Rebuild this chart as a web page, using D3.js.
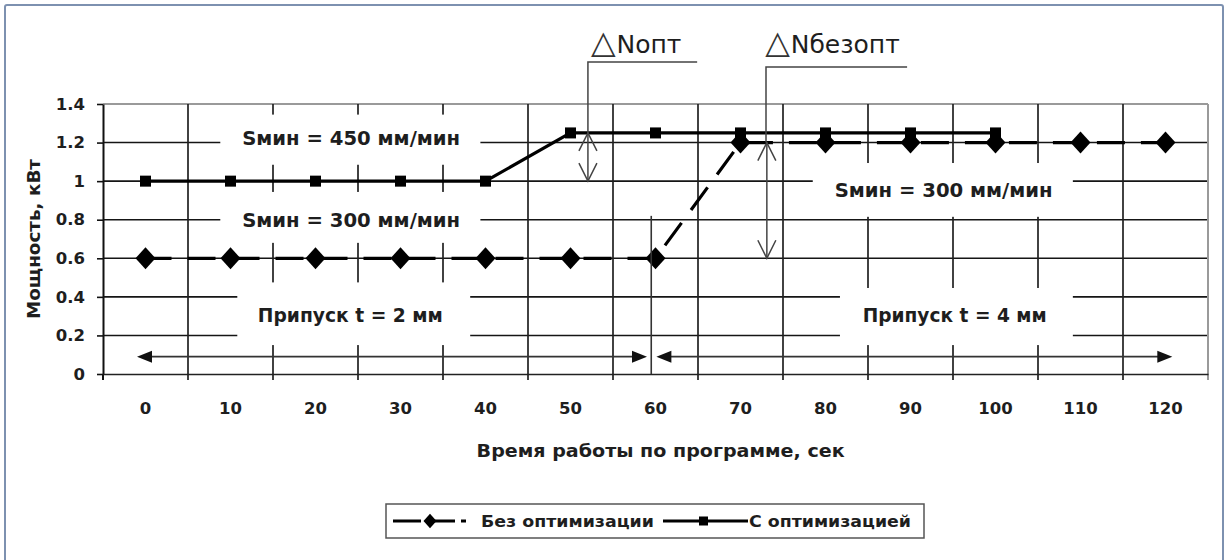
<!DOCTYPE html>
<html><head><meta charset="utf-8">
<script src="https://cdn.jsdelivr.net/npm/d3@7"></script>
<style>
body{margin:0;background:#fff}
svg text{font-family:"DejaVu Sans",sans-serif;fill:#1e1e1e}
</style>
</head><body><svg id="c" width="1230" height="560"></svg>
<script>
// ---- data ----
const categories = ["0","10","20","30","40","50","60","70","80","90","100","110","120"];
const seriesNoOpt = [0.6,0.6,0.6,0.6,0.6,0.6,0.6,1.2,1.2,1.2,1.2,1.2,1.2];
const seriesOpt   = [1,1,1,1,1,1.25,1.25,1.25,1.25,1.25,1.25,null,null];
const seriesNames = ["Без оптимизации","С оптимизацией"];
const yTicks = [0,0.2,0.4,0.6,0.8,1,1.2,1.4];
const yTickLabels = ["0","0.2","0.4","0.6","0.8","1","1.2","1.4"];
const xTitle = "Время работы по программе, сек";
const yTitle = "Мощность, кВт";

const svg = d3.select("#c");
const x = d3.scaleBand().domain(categories).range([103,1208]).padding(0);
const bw = x.bandwidth();
const y = d3.scaleLinear().domain([0,1.4]).range([374,104]);
const xt = d3.scaleLinear().domain([0,120]).range([x("0")+bw/2, x("120")+bw/2]);

// outer frame
svg.append("rect").attr("x",5).attr("y",5).attr("width",1218).attr("height",600)
  .attr("rx",2).attr("fill","none").attr("stroke","#7d91b0").attr("stroke-width",2);

// grid
const g = svg.append("g");
g.selectAll("line.h").data(yTicks.filter(v=>v>0 && v<1.4)).join("line")
  .attr("x1",x.range()[0]).attr("x2",x.range()[1]).attr("y1",d=>y(d)).attr("y2",d=>y(d))
  .attr("stroke","#151515").attr("stroke-width",1.6);
g.append("line").attr("x1",x.range()[0]).attr("x2",x.range()[1]).attr("y1",y(1.4)).attr("y2",y(1.4))
  .attr("stroke","#9a9a9a").attr("stroke-width",2);
g.selectAll("line.v").data(categories.slice(1)).join("line")
  .attr("x1",d=>x(d)).attr("x2",d=>x(d)).attr("y1",y(1.4)).attr("y2",y(0)+6)
  .attr("stroke","#202020").attr("stroke-width",1.7);
g.append("line").attr("x1",x.range()[1]).attr("x2",x.range()[1]).attr("y1",y(1.4)).attr("y2",y(0)+6)
  .attr("stroke","#9a9a9a").attr("stroke-width",2);

// white label boxes (mask grid)
const boxes = [
  {t0:8.8,t1:39.4,p0:1.085,p1:1.345, text:"Sмин = 450 мм/мин", tc:24.2, pb:1.19, w:218},
  {t0:8.8,t1:39.4,p0:0.68,p1:0.944, text:"Sмин = 300 мм/мин", tc:24.2, pb:0.762, w:218},
  {t0:10.8,t1:38.2,p0:0.15,p1:0.475, text:"Припуск t = 2 мм", tc:24.1, pb:0.27, w:185},
  {t0:78.5,t1:109.1,p0:0.815,p1:1.094, text:"Sмин = 300 мм/мин", tc:93.9, pb:0.918, w:218},
  {t0:81.7,t1:109.1,p0:0.15,p1:0.446, text:"Припуск t = 4 мм", tc:95.2, pb:0.27, w:184}
];
svg.selectAll("rect.box").data(boxes).join("rect")
  .attr("x",d=>xt(d.t0)).attr("y",d=>y(d.p1)).attr("width",d=>xt(d.t1)-xt(d.t0)).attr("height",d=>y(d.p0)-y(d.p1))
  .attr("fill","#fff");
svg.selectAll("text.box").data(boxes).join("text")
  .attr("x",d=>xt(d.tc)).attr("y",d=>y(d.pb)).attr("text-anchor","middle")
  .attr("font-size",19.5).attr("font-weight","bold")
  .attr("textLength",d=>d.w).attr("lengthAdjust","spacingAndGlyphs")
  .text(d=>d.text);

// axes
const ya = svg.append("g").attr("transform","translate(103,0)")
  .call(d3.axisLeft(y).tickValues(yTicks).tickSize(6).tickSizeOuter(0).tickPadding(12).tickFormat((d,i)=>yTickLabels[i]));
ya.select(".domain").attr("stroke","#111").attr("stroke-width",2);
ya.selectAll(".tick line").attr("stroke","#111").attr("stroke-width",1.6);
ya.selectAll("text").attr("font-size",16.5).attr("font-weight","bold").attr("fill","#1e1e1e")
  .style("font-family","DejaVu Sans");
svg.append("line").attr("x1",103).attr("x2",103).attr("y1",y(0)).attr("y2",y(0)+6).attr("stroke","#111").attr("stroke-width",2);

const xa = svg.append("g").attr("transform",`translate(0,${y(0)})`)
  .call(d3.axisBottom(x).tickSize(0).tickSizeOuter(0).tickPadding(28));
xa.select(".domain").attr("stroke","#222").attr("stroke-width",1.6);
xa.selectAll("text").attr("font-size",16.5).attr("font-weight","bold").attr("fill","#1e1e1e")
  .style("font-family","DejaVu Sans");

// axis titles
svg.append("text").attr("x",xt(60.6)).attr("y",457).attr("text-anchor","middle")
  .attr("font-size",17).attr("font-weight","bold").attr("textLength",368).attr("lengthAdjust","spacingAndGlyphs").text(xTitle);
svg.append("text").attr("transform",`translate(40,${(y(0)+y(1.4))/2}) rotate(-90)`).attr("text-anchor","middle")
  .attr("font-size",17).attr("font-weight","bold").attr("textLength",160).attr("lengthAdjust","spacingAndGlyphs").text(yTitle);

// series
const pts = arr => arr.map((v,i)=>({c:categories[i],v})).filter(d=>d.v!=null);
const line = d3.line().x(d=>x(d.c)+bw/2).y(d=>y(d.v));
svg.append("path").attr("d",line(pts(seriesNoOpt))).attr("fill","none").attr("stroke","#000")
  .attr("stroke-width",3.2).attr("stroke-dasharray","28,16").attr("stroke-dashoffset",2);
svg.append("path").attr("d",line(pts(seriesOpt))).attr("fill","none").attr("stroke","#000").attr("stroke-width",3.2);
const diamond = (s)=>`M0,${-s*1.1}L${s},0L0,${s*1.1}L${-s},0Z`;
svg.selectAll("path.dm").data(pts(seriesNoOpt)).join("path")
  .attr("transform",d=>`translate(${x(d.c)+bw/2},${y(d.v)})`).attr("d",diamond(10)).attr("fill","#000");
svg.selectAll("rect.sq").data(pts(seriesOpt)).join("rect")
  .attr("x",d=>x(d.c)+bw/2-5.5).attr("y",d=>y(d.v)-5.5).attr("width",11).attr("height",11).attr("fill","#000");

// bottom double arrows
const arrowY = y(0.09);
function solidArrow(t0,t1){
  const a=xt(t0), b=xt(t1);
  svg.append("line").attr("x1",a+10).attr("x2",b-10).attr("y1",arrowY).attr("y2",arrowY).attr("stroke","#333").attr("stroke-width",1.6);
  svg.append("path").attr("d",`M${a},${arrowY}L${a+15},${arrowY-6}L${a+15},${arrowY+6}Z`).attr("fill","#111");
  svg.append("path").attr("d",`M${b},${arrowY}L${b-15},${arrowY-6}L${b-15},${arrowY+6}Z`).attr("fill","#111");
}
solidArrow(-1,59);
solidArrow(60.1,120.8);
svg.append("line").attr("x1",xt(59.5)).attr("x2",xt(59.5)).attr("y1",y(0.82)).attr("y2",y(0))
  .attr("stroke","#333").attr("stroke-width",1.6);

// delta annotations
function openArrow(t,pTop,pBot){
  const X=xt(t), a=y(pTop), b=y(pBot);
  svg.append("line").attr("x1",X).attr("x2",X).attr("y1",a).attr("y2",b).attr("stroke","#444").attr("stroke-width",1.5);
  svg.append("path").attr("d",`M${X-9},${a+18}L${X},${a}L${X+9},${a+18}M${X-9},${b-18}L${X},${b}L${X+9},${b-18}`)
    .attr("fill","none").attr("stroke","#444").attr("stroke-width",1.5);
}
function leader(t,tEnd,pH,pTop){
  const X=xt(t);
  svg.append("path").attr("d",`M${xt(tEnd)},${y(pH)}H${X}V${y(pTop)}`).attr("fill","none").attr("stroke","#444").attr("stroke-width",1.5);
}
leader(52.05,64.9,1.618,1.25);
openArrow(52.05,1.25,1.0);
leader(73,89.6,1.592,1.2);
openArrow(73.1,1.2,0.6);

function delta(t,p,label){
  const tx = svg.append("text").attr("x",xt(t)).attr("y",y(p)).attr("font-size",25);
  tx.append("tspan").attr("font-size",32).attr("fill","#333").text("△");
  tx.append("tspan").attr("dx",1).text(label);
}
delta(52.4,1.664,"Nопт");
delta(72.9,1.664,"Nбезопт");

// legend
const lg = svg.append("g");
lg.append("rect").attr("x",386).attr("y",504).attr("width",538).attr("height",34).attr("fill","#fff")
  .attr("stroke","#555").attr("stroke-width",1.5);
const ly = 521;
lg.append("line").attr("x1",393).attr("x2",466).attr("y1",ly).attr("y2",ly).attr("stroke","#000").attr("stroke-width",3).attr("stroke-dasharray","28,6").attr("stroke-dashoffset",0);
lg.append("path").attr("transform",`translate(430,${ly})`).attr("d",diamond(6.5)).attr("fill","#000");
lg.append("text").attr("x",481).attr("y",ly+6).attr("font-size",16.5).attr("font-weight","bold")
  .attr("textLength",173).attr("lengthAdjust","spacingAndGlyphs").text(seriesNames[0]);
lg.append("line").attr("x1",663).attr("x2",748).attr("y1",ly).attr("y2",ly).attr("stroke","#000").attr("stroke-width",3);
lg.append("rect").attr("x",699).attr("y",ly-4.5).attr("width",9).attr("height",9).attr("fill","#000");
lg.append("text").attr("x",749).attr("y",ly+6).attr("font-size",16.5).attr("font-weight","bold")
  .attr("textLength",162).attr("lengthAdjust","spacingAndGlyphs").text(seriesNames[1]);
</script></body></html>
